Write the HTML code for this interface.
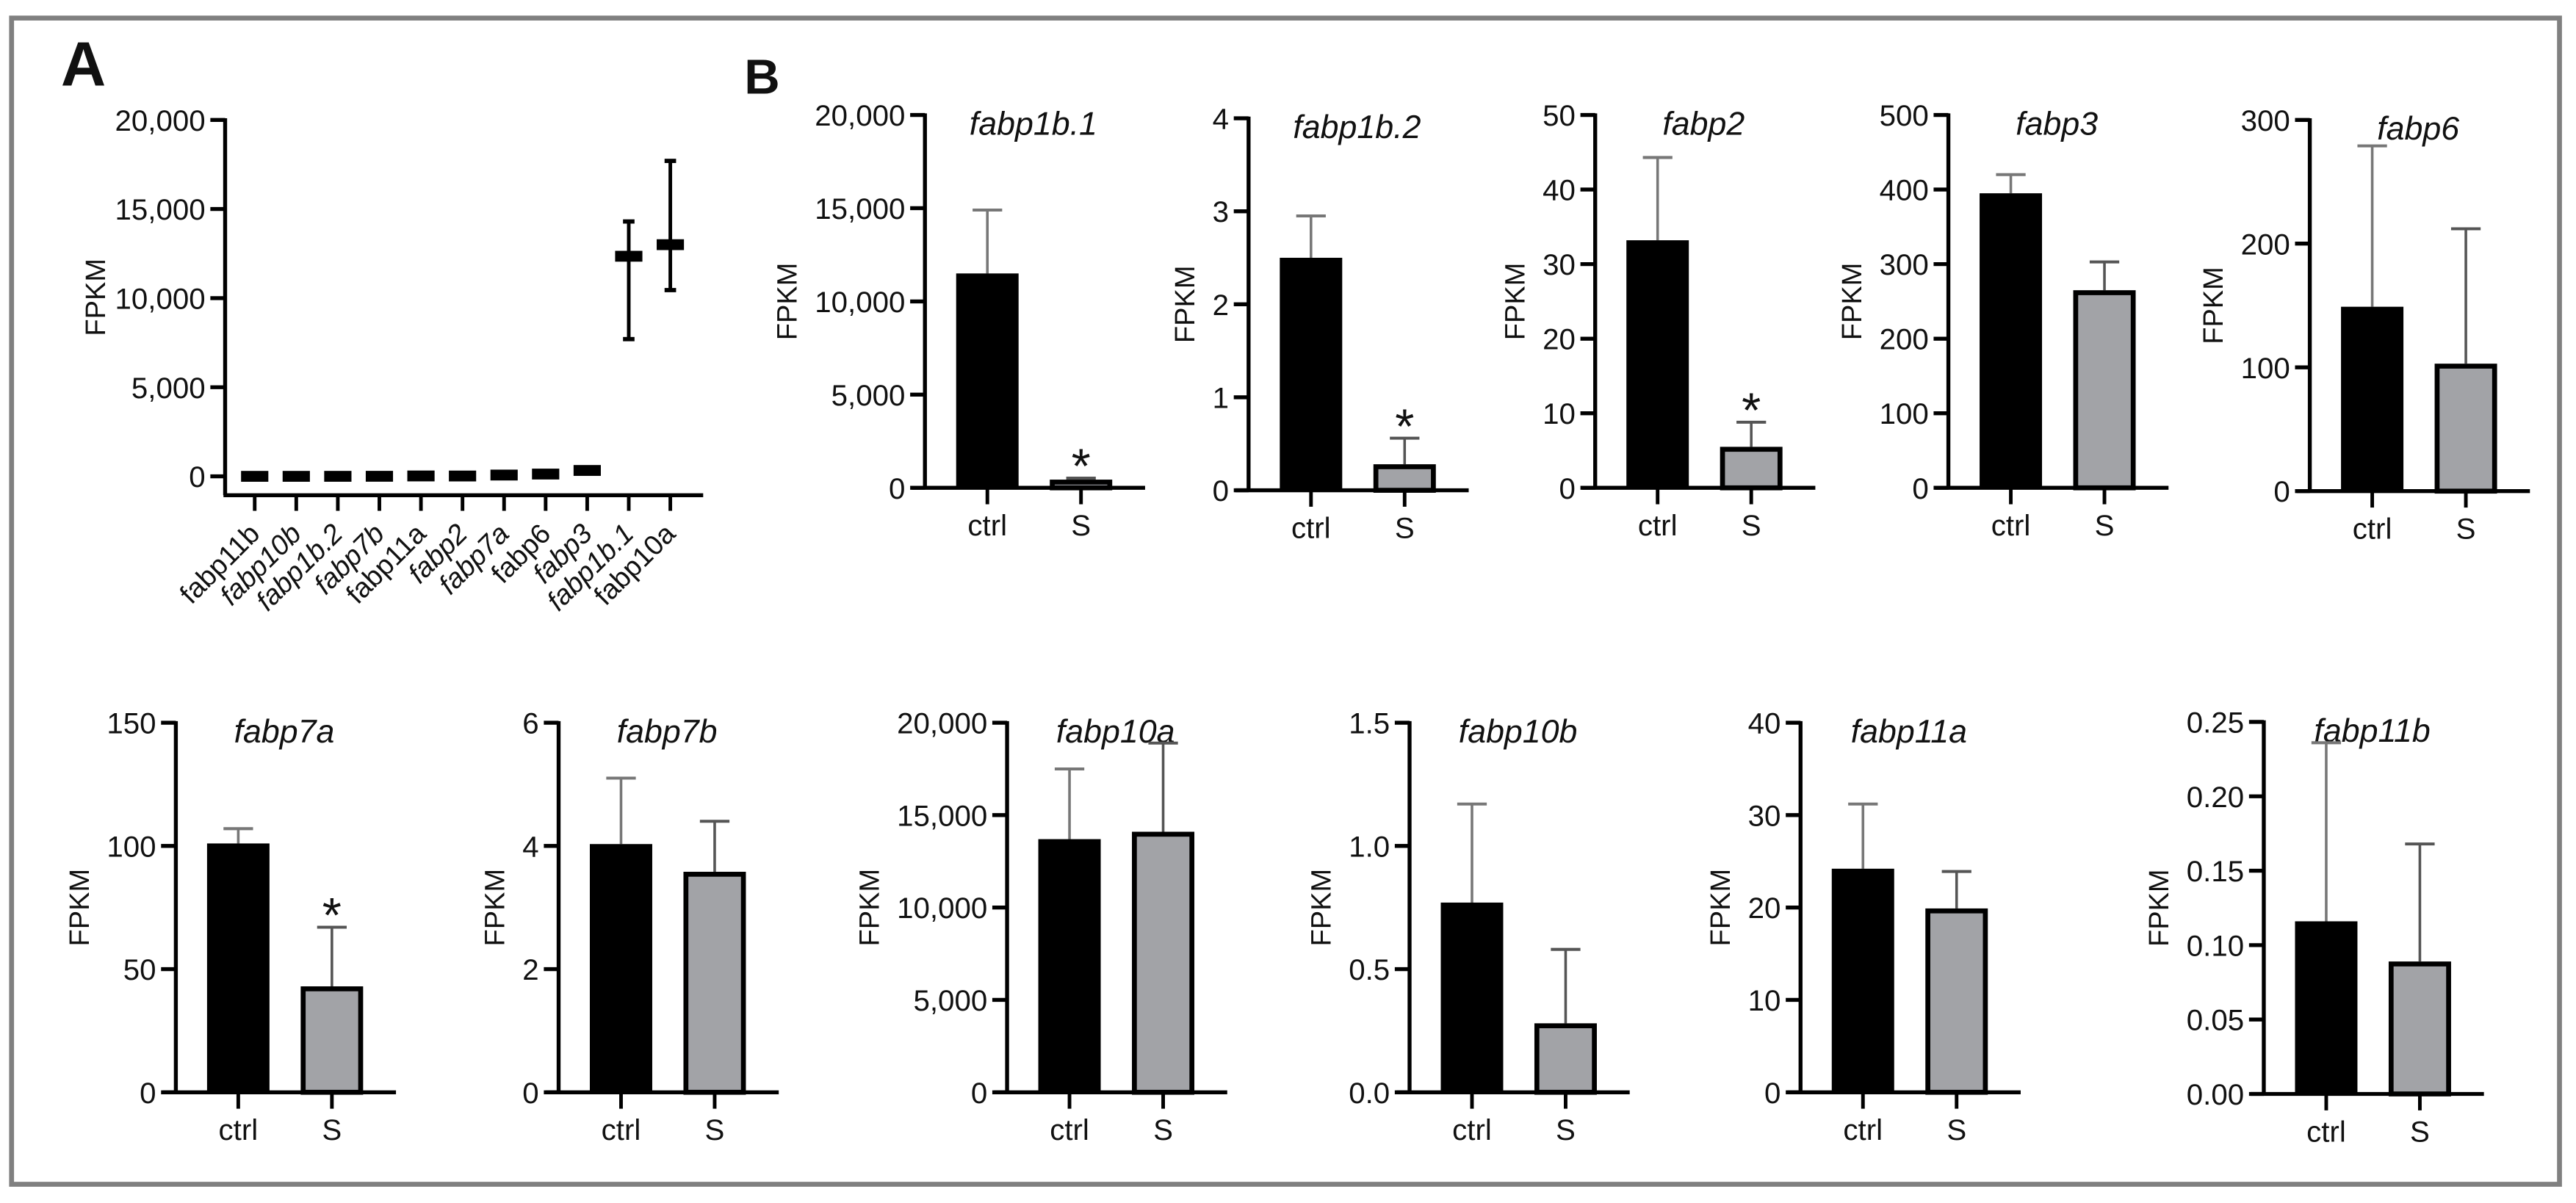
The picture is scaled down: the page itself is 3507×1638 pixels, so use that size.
<!DOCTYPE html>
<html><head><meta charset="utf-8"><style>
html,body{margin:0;padding:0;background:#fff;}
svg{display:block;}
text{font-family:"Liberation Sans",Arial,sans-serif;fill:#111;}
</style></head><body>
<svg id="fig" xmlns="http://www.w3.org/2000/svg" width="3507" height="1638" viewBox="0 0 1568 732.4">
<rect x="7" y="11" width="1551" height="710" fill="#fff" stroke="#808080" stroke-width="3"/>
<text x="37" y="52" font-size="38" font-weight="bold">A</text>
<text x="453" y="57" font-size="30" font-weight="bold">B</text>
<g id="gA"></g>
<g id="gB"></g>
</svg>
<script>
// ---- Panel A data ----
const aCategories = ["fabp11b","fabp10b","fabp1b.2","fabp7b","fabp11a","fabp2","fabp7a","fabp6","fabp3","fabp1b.1","fabp10a"];
const aItalic = [false,true,true,true,false,true,true,false,true,true,false];
const aMeans = [0.12,0.5,1.4,3.8,22,19,72,128,330,12350,13000];
const aLow = [null,null,null,null,null,null,null,null,null,7700,10450];
const aHigh = [null,null,null,null,null,null,null,null,null,14300,17700];
const aTicks = [0,5000,10000,15000,20000];
const aTickLabels = ["0","5,000","10,000","15,000","20,000"];

// ---- Panel B data ----
const genes = ["fabp1b.1","fabp1b.2","fabp2","fabp3","fabp6","fabp7a","fabp7b","fabp10a","fabp10b","fabp11a","fabp11b"];
const groups = ["ctrl","S"];
const ctrlMeans = [11500,2.5,33.2,395,149,101,4.03,13700,0.77,24.2,0.116];
const ctrlErrTop = [14900,2.95,44.3,420,279,107,5.1,17500,1.17,31.2,0.236];
const sMeans = [440,0.28,5.5,265,103,43,3.58,14100,0.28,19.9,0.089];
const sErrTop = [520,0.56,8.8,303,212,67,4.4,18900,0.58,23.9,0.168];
const yMax = [20000,4,50,500,300,150,6,20000,1.5,40,0.25];
const yStep = [5000,1,10,100,100,50,2,5000,0.5,10,0.05];
const yDecimals = [0,0,0,0,0,0,0,0,1,0,2];
const significant = [true,true,true,false,false,true,false,false,false,false,false];

// layout (not data)
const layout = [
 {x:563,top:70,zero:297},{x:760,top:72,zero:298.5},{x:971,top:70,zero:297},{x:1186,top:70,zero:297},{x:1406,top:73,zero:299},
 {x:107,top:440,zero:665},{x:340,top:440,zero:665},{x:613,top:440,zero:665},{x:858,top:440,zero:665},{x:1096,top:440,zero:665},{x:1378,top:439.5,zero:666}
];
const NS="http://www.w3.org/2000/svg";
function mk(parent,tag,attrs,txt){const e=document.createElementNS(NS,tag);for(const k in attrs)e.setAttribute(k,attrs[k]);if(txt!==undefined)e.textContent=txt;parent.appendChild(e);return e;}
function fmt(v,d){if(d>0)return v.toFixed(d);return Math.round(v).toLocaleString("en-US");}

// ---- Panel A ----
(function(){
 const g=document.getElementById("gA");
 const ax=137, y0=290, y1=73, xAxisY=301.5;
 const ys=v=>y0-(v/20000)*(y0-y1);
 const xs=i=>155+i*25.3;
 let l=mk(g,"line",{x1:ax,y1:y1-1,x2:ax,y2:xAxisY,stroke:"#000","stroke-width":2.4});
 
 l=mk(g,"line",{x1:ax-1,y1:xAxisY,x2:428,y2:xAxisY,stroke:"#000","stroke-width":2.4});
 
 aTicks.forEach((t,i)=>{
  const y=ys(t);
  const tk=mk(g,"line",{x1:ax-9,y1:y,x2:ax,y2:y,stroke:"#000","stroke-width":2.4});
  
  const tl=mk(g,"text",{x:ax-12,y:y+6.5,"font-size":18,"text-anchor":"end"},aTickLabels[i]);
  
 });
 const yl=mk(g,"text",{x:0,y:0,"font-size":17,"text-anchor":"middle",transform:"translate(64,181) rotate(-90)"},"FPKM");
 
 aCategories.forEach((c,i)=>{
  const x=xs(i);
  const tk=mk(g,"line",{x1:x,y1:xAxisY,x2:x,y2:311,stroke:"#000","stroke-width":2.2});
  
  const tl=mk(g,"text",{x:0,y:0,"font-size":17,"text-anchor":"end","font-style":aItalic[i]?"italic":"normal",transform:`translate(${x+4},${326}) rotate(-45)`},c);
  
  if(aLow[i]!==null){
   const eb=mk(g,"line",{x1:x,y1:ys(aHigh[i]),x2:x,y2:ys(aLow[i]),stroke:"#000","stroke-width":2.2});
   
   [aHigh[i],aLow[i]].forEach(v=>{
    const cp=mk(g,"line",{x1:x-3.5,y1:ys(v),x2:x+3.5,y2:ys(v),stroke:"#000","stroke-width":2.6});
    
   });
  }
  const m=mk(g,"rect",{x:x-8.3,y:ys(aMeans[i])-3.3,width:16.6,height:6.6,fill:"#000"});
  
 });
})();

// ---- Panel B ----
(function(){
 const root=document.getElementById("gB");
 genes.forEach((gene,k)=>{
  const L=layout[k];
  const g=mk(root,"g",{});
  
  
  const ax=L.x, y0=L.zero, y1=L.top, max=yMax[k];
  const ys=v=>y0-(v/max)*(y0-y1);
  let l=mk(g,"line",{x1:ax,y1:y1-1,x2:ax,y2:y0,stroke:"#000","stroke-width":2.4});
  
  l=mk(g,"line",{x1:ax-8,y1:y0,x2:ax+134,y2:y0,stroke:"#000","stroke-width":2.4});
  
  let maxW=0;
  const n=Math.round(max/yStep[k]);
  for(let i=0;i<=n;i++){
   const v=i*yStep[k], y=ys(v);
   const tk=mk(g,"line",{x1:ax-9,y1:y,x2:ax,y2:y,stroke:"#000","stroke-width":2.4});
   
   const s=fmt(v,yDecimals[k]);
   const tl=mk(g,"text",{x:ax-12,y:y+6.5,"font-size":18,"text-anchor":"end"},s);
   
   let w=0;for(const ch of s)w+=(ch===","||ch===".")?0.278:0.556;
   maxW=Math.max(maxW,w*18);
  }
  const yl=mk(g,"text",{x:0,y:0,"font-size":17,"text-anchor":"middle",transform:`translate(${ax-12-maxW-11},${(y0+y1)/2}) rotate(-90)`},"FPKM");
  
  const tt=mk(g,"text",{x:ax+66,y:y1+12,"font-size":20,"font-style":"italic","text-anchor":"middle"},gene);
  
  const means=[ctrlMeans[k],sMeans[k]], errs=[ctrlErrTop[k],sErrTop[k]];
  groups.forEach((grp,j)=>{
   const cx=ax+38+j*57;
   const eb=mk(g,"line",{x1:cx,y1:ys(errs[j]),x2:cx,y2:ys(means[j]),stroke:j===0?"#777":"#555","stroke-width":1.6});
   
   const cp=mk(g,"line",{x1:cx-9,y1:ys(errs[j]),x2:cx+9,y2:ys(errs[j]),stroke:j===0?"#777":"#555","stroke-width":1.8});
   
   const top=ys(means[j]);
   let b;
   if(j===0){
    b=mk(g,"rect",{x:cx-19,y:top,width:38,height:y0-top,fill:"#000"});
   } else {
    b=mk(g,"rect",{x:cx-17.5,y:top+1.5,width:35,height:Math.max(0,y0-top-1.5),fill:"#a2a3a7",stroke:"#000","stroke-width":3});
   }
   
   const tk=mk(g,"line",{x1:cx,y1:y0,x2:cx,y2:y0+10,stroke:"#000","stroke-width":2.2});
   
   const xl=mk(g,"text",{x:cx,y:y0+29,"font-size":18,"text-anchor":"middle"},grp);
   
  });
  if(significant[k]){
   const cx=ax+95;
   const st=mk(g,"text",{x:cx,y:ys(sErrTop[k])-14+17,"font-size":30,"text-anchor":"middle"},"*");
   
  }
 });
})();
</script>
</body></html>
